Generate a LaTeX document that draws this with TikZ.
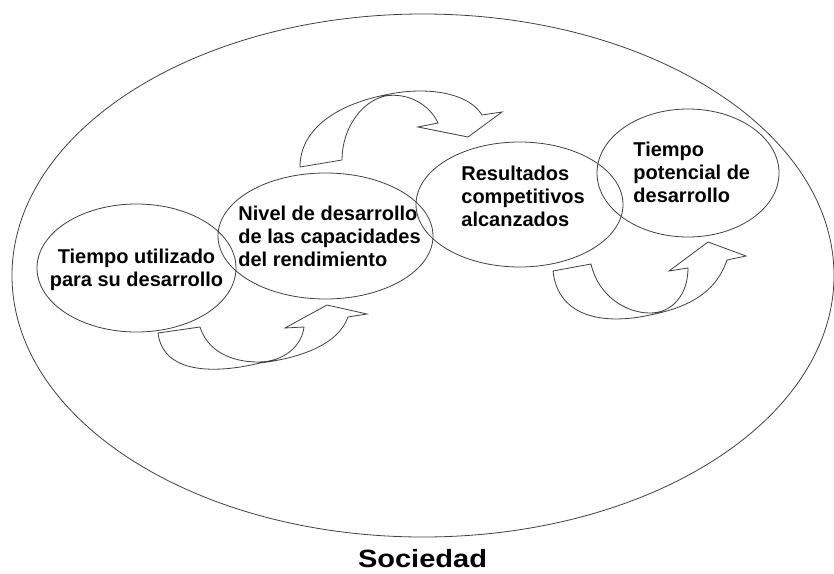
\documentclass[tikz,border=0pt]{standalone}
\usepackage{fontspec}
\setmainfont{Liberation Sans}
\usetikzlibrary{shapes.geometric}

\begin{document}
\begin{tikzpicture}[x=1pt, y=-1pt, line width=0.8pt,
  every node/.style={font=\fontsize{20}{23}\selectfont\bfseries},
  oval/.style={draw=black!75, ellipse, inner sep=0pt},
  txt/.style={inner sep=0pt, align=left, anchor=west},
  bendarrow/.style={draw=black!75, line join=miter}]
\useasboundingbox (0,0) rectangle (834,573);
\node[oval, minimum width=822pt, minimum height=523pt] (soc) at (423,275.5) {};
\node[inner sep=0pt, font=\fontsize{25}{30}\selectfont\bfseries] (soclab) at (422.5,559) {\scalebox{1.16}[1]{Sociedad}};
\node[oval, minimum width=199pt, minimum height=128pt] (tuso) at (136.5,268) {};
\node[oval, minimum width=215pt, minimum height=126pt] (nivel) at (325.5,236) {};
\node[oval, minimum width=207pt, minimum height=125pt] (result) at (519.5,204.5) {};
\node[oval, minimum width=182pt, minimum height=128pt] (tpot) at (688,173) {};
\node[inner sep=0pt, align=center] (tusotxt) at (tuso.center) [yshift=-2pt] {Tiempo utilizado\\para su desarrollo};
\node[txt] (niveltxt) at (238,236) {Nivel de desarrollo\\de las capacidades\\del rendimiento};
\node[txt] (resulttxt) at (461,196) {Resultados\\competitivos\\alcanzados};
\node[txt] (tpottxt) at (633,172) {Tiempo\\potencial de\\desarrollo};
\draw[bendarrow] (158,333) -- (200,327) .. controls (207,350) and (230,362) .. (258,362) .. controls (285,362) and (302,345) .. (304,327) -- (285,328) -- (327,305) -- (367,314) -- (348,317) .. controls (338,345) and (300,358) .. (260,363) .. controls (215,374) and (163,374) .. (158,333) -- cycle;
\draw[bendarrow] (300,167) -- (342,160) .. controls (342,130) and (360,102) .. (385,96) .. controls (408,92) and (430,105) .. (438,123) -- (418,127) -- (468,137) -- (502,112) -- (482,115) .. controls (468,92) and (425,86) .. (385,95) .. controls (335,105) and (300,130) .. (300,167) -- cycle;
\draw[bendarrow] (553,271) -- (591,264) .. controls (598,295) and (625,313) .. (650,313) .. controls (672,313) and (688,295) .. (688,268) -- (669,271) -- (708,242) -- (746,256) -- (727,260) .. controls (715,295) and (685,308) .. (650,315) .. controls (605,325) and (558,318) .. (553,271) -- cycle;
\end{tikzpicture}
\end{document}
